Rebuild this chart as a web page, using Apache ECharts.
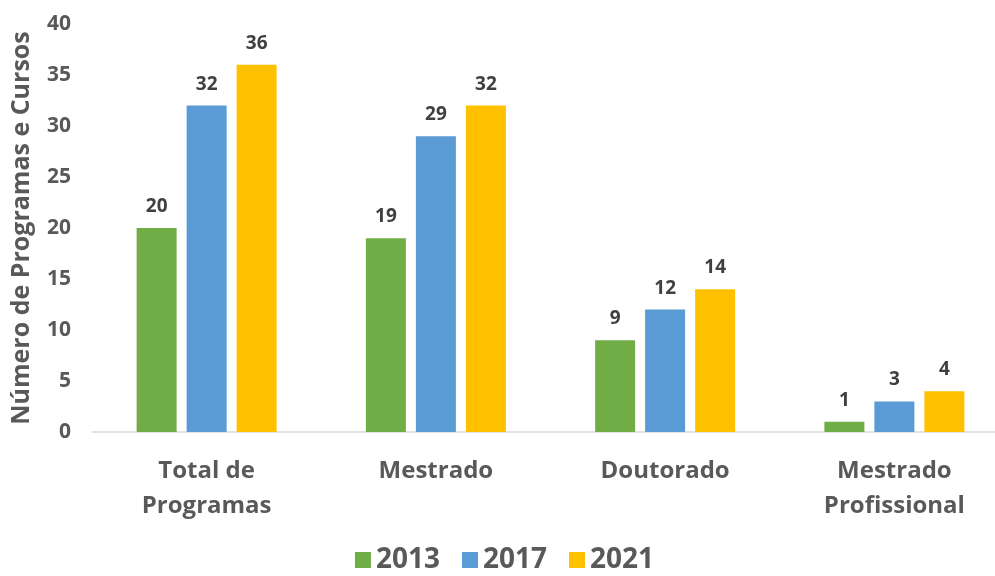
<!DOCTYPE html>
<html lang="pt">
<head>
    <meta charset="UTF-8">
    <title>Programas e Cursos</title>
    <script src="https://cdn.jsdelivr.net/npm/echarts@6/dist/echarts.min.js"></script>
    <style>
        * { margin: 0; padding: 0 }
        html, body { width: 100%; height: 100%; background: #fff; overflow: hidden; }
        /* o eixo do original passa da borda direita */
        #chart { width: 1009px; height: 576px; }
    </style>
</head>
<body>
<div id="chart"></div>
<script>
    // categorias e valores
    var categories = ['Total de\nProgramas', 'Mestrado', 'Doutorado', 'Mestrado\nProfissional'];
    var years = ['2013', '2017', '2021'];
    var v2013 = [20, 19, 9, 1];
    var v2017 = [32, 29, 12, 3];
    var v2021 = [36, 32, 14, 4];
    var yTicks = [0, 5, 10, 15, 20, 25, 30, 35, 40];

    var colors = ['#70AD47', '#5B9BD5', '#FFC000'];
    var font = '"Open Sans", Lato, sans-serif';

    function serie(name, data, color) {
        return {
            name: name,
            type: 'bar',
            data: data,
            barWidth: 40,
            barGap: '25%',
            itemStyle: { color: color },
            label: {
                show: true,
                position: 'top',
                distance: 12,
                fontFamily: font,
                fontWeight: 'bold',
                fontSize: 19,
                color: '#404040'
            }
        };
    }

    var myChart = echarts.init(document.getElementById('chart'));
    var option = {
        animation: false,
        color: colors,
        grid: { left: 92, top: 24, right: 0, bottom: 144 },
        legend: {
            data: years,
            bottom: -3,
            left: 'center',
            itemWidth: 16,
            itemHeight: 16,
            itemGap: 22,
            icon: 'rect',
            textStyle: { fontFamily: font, fontWeight: 'bold', fontSize: 28, color: '#595959' }
        },
        xAxis: {
            type: 'category',
            data: categories,
            axisLine: { lineStyle: { color: '#D9D9D9', width: 1.5 } },
            axisTick: { show: false },
            axisLabel: {
                margin: 22,
                fontFamily: font,
                fontWeight: 'bold',
                fontSize: 24,
                lineHeight: 35,
                color: '#595959'
            }
        },
        yAxis: {
            type: 'value',
            min: yTicks[0],
            max: yTicks[yTicks.length - 1],
            interval: 5,
            name: 'Número de Programas e Cursos',
            nameLocation: 'middle',
            nameGap: 58,
            nameTextStyle: { fontFamily: font, fontWeight: 'bold', fontSize: 25, color: '#595959' },
            splitLine: { show: false },
            axisLine: { show: false },
            axisTick: { show: false },
            axisLabel: {
                margin: 21,
                fontFamily: font,
                fontWeight: 'bold',
                fontSize: 21,
                color: '#595959'
            }
        },
        series: [
            serie(years[0], v2013, colors[0]),
            serie(years[1], v2017, colors[1]),
            serie(years[2], v2021, colors[2])
        ]
    };
    myChart.setOption(option);
</script>
</body>
</html>
